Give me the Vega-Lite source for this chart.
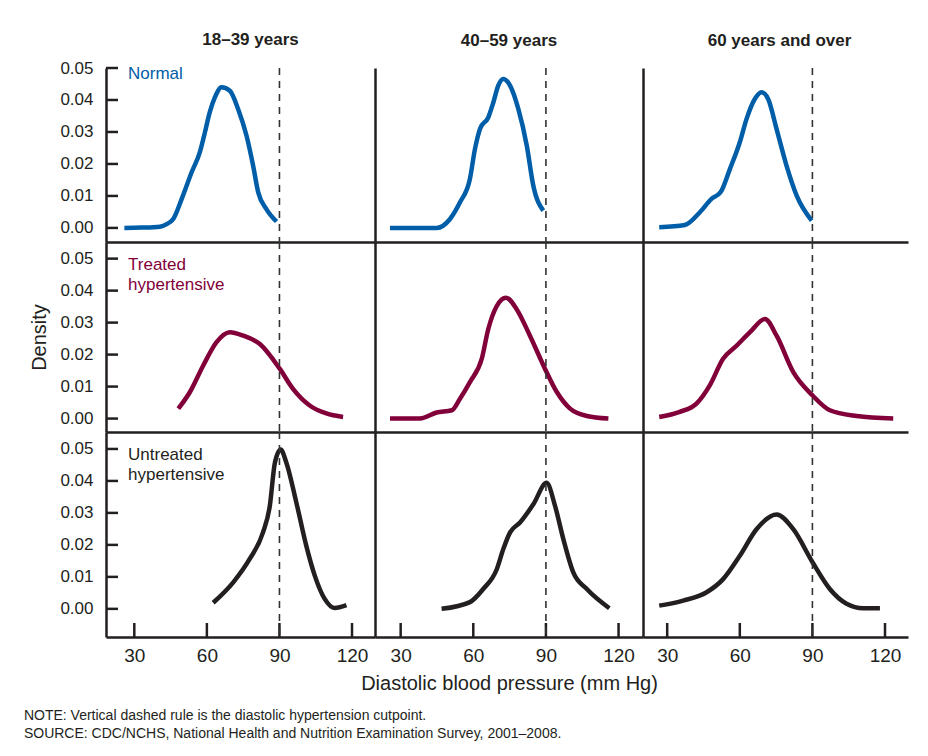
{
  "$schema": "https://vega.github.io/schema/vega-lite/v6.json",
  "background": "white",
  "padding": {"left": 23, "top": 31, "right": 10, "bottom": 10},
  "datasets": {
    "n1": [{"bp":25.9,"density":0},{"bp":33,"density":0.0001},{"bp":40.6,"density":0.0004},{"bp":43.4,"density":0.0012},{"bp":46.1,"density":0.0028},{"bp":49.6,"density":0.0091},{"bp":53.7,"density":0.0174},{"bp":57.1,"density":0.0237},{"bp":59.2,"density":0.0299},{"bp":61.2,"density":0.0362},{"bp":63.3,"density":0.0408},{"bp":66.1,"density":0.044},{"bp":69.5,"density":0.0429},{"bp":72.9,"density":0.0372},{"bp":76.4,"density":0.0288},{"bp":79.1,"density":0.0195},{"bp":81.2,"density":0.0112},{"bp":84.6,"density":0.0059},{"bp":88.8,"density":0.002}],
    "n2": [{"bp":25.6,"density":0},{"bp":44.9,"density":0},{"bp":50.4,"density":0.0028},{"bp":54.5,"density":0.008},{"bp":58.6,"density":0.0153},{"bp":60.7,"density":0.0247},{"bp":62.8,"density":0.031},{"bp":66.2,"density":0.0346},{"bp":68.3,"density":0.0393},{"bp":70.3,"density":0.0445},{"bp":72.4,"density":0.0466},{"bp":75.2,"density":0.0445},{"bp":78.6,"density":0.0372},{"bp":82.1,"density":0.0257},{"bp":84.8,"density":0.0132},{"bp":88.9,"density":0.0054}],
    "n3": [{"bp":26.7,"density":0.0002},{"bp":37.3,"density":0.0009},{"bp":43.5,"density":0.0049},{"bp":48.3,"density":0.0091},{"bp":52.1,"density":0.0112},{"bp":55.9,"density":0.0184},{"bp":60.0,"density":0.0268},{"bp":62.8,"density":0.0341},{"bp":66.2,"density":0.0403},{"bp":69.0,"density":0.0424},{"bp":71.7,"density":0.0403},{"bp":75.2,"density":0.0309},{"bp":79.3,"density":0.0195},{"bp":83.5,"density":0.0101},{"bp":89.7,"density":0.0023}],
    "t1": [{"bp":48.2,"density":0.0031},{"bp":53.0,"density":0.0083},{"bp":58.5,"density":0.0166},{"bp":64.0,"density":0.0239},{"bp":69.5,"density":0.027},{"bp":75.0,"density":0.0259},{"bp":81.9,"density":0.0233},{"bp":90.1,"density":0.0156},{"bp":95.6,"density":0.0093},{"bp":102.5,"density":0.0041},{"bp":109.4,"density":0.0016},{"bp":116.3,"density":0.0005}],
    "t2": [{"bp":25.6,"density":0},{"bp":38.0,"density":0},{"bp":44.9,"density":0.0019},{"bp":51.1,"density":0.0026},{"bp":54.5,"density":0.0062},{"bp":58.6,"density":0.0114},{"bp":63.5,"density":0.0187},{"bp":66.2,"density":0.028},{"bp":69.7,"density":0.0352},{"bp":73.5,"density":0.0378},{"bp":77.9,"density":0.0342},{"bp":83.4,"density":0.0259},{"bp":89.6,"density":0.0156},{"bp":94.5,"density":0.0083},{"bp":100.0,"density":0.0031},{"bp":106.9,"density":0.0008},{"bp":115.8,"density":0}],
    "t3": [{"bp":26.7,"density":0.0005},{"bp":35.2,"density":0.0021},{"bp":42.1,"density":0.0047},{"bp":47.6,"density":0.0104},{"bp":53.1,"density":0.0187},{"bp":58.7,"density":0.0228},{"bp":64.2,"density":0.027},{"bp":70.4,"density":0.0311},{"bp":75.2,"density":0.0259},{"bp":82.1,"density":0.0145},{"bp":90.1,"density":0.0072},{"bp":97.2,"density":0.0026},{"bp":108.3,"density":0.0008},{"bp":123.4,"density":0}],
    "u1": [{"bp":62.6,"density":0.0019},{"bp":70.9,"density":0.0083},{"bp":77.7,"density":0.0156},{"bp":83.2,"density":0.0239},{"bp":86.0,"density":0.0321},{"bp":88.1,"density":0.0456},{"bp":90.5,"density":0.0498},{"bp":92.9,"density":0.0456},{"bp":97.0,"density":0.0332},{"bp":101.1,"density":0.0197},{"bp":104.6,"density":0.0104},{"bp":108.7,"density":0.0031},{"bp":112.8,"density":0.0003},{"bp":117.7,"density":0.0012}],
    "u2": [{"bp":46.9,"density":0},{"bp":58.6,"density":0.0021},{"bp":64.1,"density":0.0062},{"bp":69.7,"density":0.0124},{"bp":72.4,"density":0.0187},{"bp":75.2,"density":0.0239},{"bp":79.3,"density":0.027},{"bp":84.8,"density":0.0327},{"bp":90.3,"density":0.0394},{"bp":93.8,"density":0.0321},{"bp":97.2,"density":0.0218},{"bp":101.3,"density":0.0114},{"bp":106.9,"density":0.0062},{"bp":116.2,"density":0.0002}],
    "u3": [{"bp":26.7,"density":0.001},{"bp":36.6,"density":0.0026},{"bp":46.3,"density":0.0052},{"bp":53.1,"density":0.0093},{"bp":60.0,"density":0.0166},{"bp":66.9,"density":0.0249},{"bp":75.2,"density":0.0295},{"bp":82.1,"density":0.0249},{"bp":90.1,"density":0.0145},{"bp":97.2,"density":0.0062},{"bp":104.1,"density":0.0016},{"bp":111.0,"density":0.0002},{"bp":117.9,"density":0.0002}],
    "yticks": [{"density":0},{"density":0.01},{"density":0.02},{"density":0.03},{"density":0.04},{"density":0.05}],
    "xticks": [{"bp":30},{"bp":60},{"bp":90},{"bp":120}],
    "cut": [{"bp":90}]
  },
  "columns": 3,
  "spacing": 0,
  "bounds": "flush",
  "align": "each",
  "title": {
    "text": ["NOTE: Vertical dashed rule is the diastolic hypertension cutpoint.", "SOURCE: CDC/NCHS, National Health and Nutrition Examination Survey, 2001–2008."],
    "orient": "bottom", "anchor": "start", "frame": "bounds",
    "fontSize": 14, "fontWeight": "normal", "lineHeight": 18, "offset": 16, "dx": -6, "color": "#231f20"
  },
  "concat": [
    {
      "width": 269, "height": 174,
      "title": {"text": "18–39 years", "fontSize": 17, "fontWeight": "bold", "offset": 10, "frame": "group", "dx": 10},
      "layer": [
        {"data": {"name": "n1"}, "mark": {"type": "line", "color": "#005ea8", "strokeWidth": 4.5, "interpolate": "monotone"},
         "encoding": {
           "x": {"field": "bp", "type": "quantitative", "scale": {"domain": [18.3, 129.5], "nice": false, "zero": false}, "axis": {"ticks": false, "labels": false, "title": null}},
           "y": {"field": "density", "type": "quantitative", "scale": {"domain": [-0.0044, 0.05], "nice": false, "zero": false}, "axis": {"values": [0, 0.01, 0.02, 0.03, 0.04, 0.05], "tickCount": 12, "format": ".2f", "ticks": false, "labelPadding": 13, "labelFontSize": 17, "labelOverlap": false, "labelFlush": false, "labelBound": false, "title": null}}
         }},
        {"data": {"name": "yticks"}, "mark": {"type": "rule", "color": "#231f20", "strokeWidth": 2.5}, "encoding": {"y": {"field": "density", "type": "quantitative"}, "x": {"datum": 18.3, "type": "quantitative"}, "x2": {"datum": 23.26}}},
        {"data": {"name": "cut"}, "mark": {"type": "rule", "strokeDash": [7, 6], "strokeWidth": 1.6, "color": "#333333"}, "encoding": {"x": {"field": "bp", "type": "quantitative"}}},
        {"data": {"values": [{"label": "Normal"}]}, "mark": {"type": "text", "align": "left", "baseline": "top", "fontSize": 17, "color": "#005ea8", "lineHeight": 20, "dy": -2}, "encoding": {"x": {"datum": 27.4}, "y": {"datum": 0.05}, "text": {"field": "label"}}}
      ]
    },
    {
      "width": 268, "height": 174,
      "title": {"text": "40–59 years", "fontSize": 17, "fontWeight": "bold", "offset": 17, "frame": "group"},
      "layer": [
        {"data": {"name": "n2"}, "mark": {"type": "line", "color": "#005ea8", "strokeWidth": 4.5, "interpolate": "monotone"},
         "encoding": {
           "x": {"field": "bp", "type": "quantitative", "scale": {"domain": [19.4, 130.1], "nice": false, "zero": false}, "axis": {"ticks": false, "labels": false, "title": null}},
           "y": {"field": "density", "type": "quantitative", "scale": {"domain": [-0.0044, 0.05], "nice": false, "zero": false}, "axis": {"ticks": false, "labels": false, "title": null}}
         }},
        {"data": {"name": "cut"}, "mark": {"type": "rule", "strokeDash": [7, 6], "strokeWidth": 1.6, "color": "#333333"}, "encoding": {"x": {"field": "bp", "type": "quantitative"}}}
      ]
    },
    {
      "width": 265, "height": 174,
      "title": {"text": "60 years and over", "fontSize": 17, "fontWeight": "bold", "offset": 17, "frame": "group", "dx": 4},
      "layer": [
        {"data": {"name": "n3"}, "mark": {"type": "line", "color": "#005ea8", "strokeWidth": 4.5, "interpolate": "monotone"},
         "encoding": {
           "x": {"field": "bp", "type": "quantitative", "scale": {"domain": [20, 129.5], "nice": false, "zero": false}, "axis": {"ticks": false, "labels": false, "title": null}},
           "y": {"field": "density", "type": "quantitative", "scale": {"domain": [-0.0044, 0.05], "nice": false, "zero": false}, "axis": {"ticks": false, "labels": false, "title": null}}
         }},
        {"data": {"name": "cut"}, "mark": {"type": "rule", "strokeDash": [7, 6], "strokeWidth": 1.6, "color": "#333333"}, "encoding": {"x": {"field": "bp", "type": "quantitative"}}}
      ]
    },
    {
      "width": 269, "height": 190,
      "layer": [
        {"data": {"name": "t1"}, "mark": {"type": "line", "color": "#82003a", "strokeWidth": 4.5, "interpolate": "monotone"},
         "encoding": {
           "x": {"field": "bp", "type": "quantitative", "scale": {"domain": [18.3, 129.5], "nice": false, "zero": false}, "axis": {"ticks": false, "labels": false, "title": null}},
           "y": {"field": "density", "type": "quantitative", "scale": {"domain": [-0.0042, 0.0552], "nice": false, "zero": false}, "axis": {"values": [0, 0.01, 0.02, 0.03, 0.04, 0.05], "tickCount": 12, "format": ".2f", "ticks": false, "labelPadding": 13, "labelFontSize": 17, "labelOverlap": false, "labelFlush": false, "labelBound": false, "title": "Density", "titleFontSize": 20, "titlePadding": 10}}
         }},
        {"data": {"name": "yticks"}, "mark": {"type": "rule", "color": "#231f20", "strokeWidth": 2.5}, "encoding": {"y": {"field": "density", "type": "quantitative"}, "x": {"datum": 18.3, "type": "quantitative"}, "x2": {"datum": 23.26}}},
        {"data": {"name": "cut"}, "mark": {"type": "rule", "strokeDash": [7, 6], "strokeWidth": 1.6, "color": "#333333"}, "encoding": {"x": {"field": "bp", "type": "quantitative"}}},
        {"data": {"values": [{"label": ["Treated", "hypertensive"]}]}, "mark": {"type": "text", "align": "left", "baseline": "top", "fontSize": 17, "color": "#82003a", "lineHeight": 20, "dy": -2}, "encoding": {"x": {"datum": 27.4}, "y": {"datum": 0.05}, "text": {"field": "label"}}}
      ]
    },
    {
      "width": 268, "height": 190,
      "layer": [
        {"data": {"name": "t2"}, "mark": {"type": "line", "color": "#82003a", "strokeWidth": 4.5, "interpolate": "monotone"},
         "encoding": {
           "x": {"field": "bp", "type": "quantitative", "scale": {"domain": [19.4, 130.1], "nice": false, "zero": false}, "axis": {"ticks": false, "labels": false, "title": null}},
           "y": {"field": "density", "type": "quantitative", "scale": {"domain": [-0.0042, 0.0552], "nice": false, "zero": false}, "axis": {"ticks": false, "labels": false, "title": null}}
         }},
        {"data": {"name": "cut"}, "mark": {"type": "rule", "strokeDash": [7, 6], "strokeWidth": 1.6, "color": "#333333"}, "encoding": {"x": {"field": "bp", "type": "quantitative"}}}
      ]
    },
    {
      "width": 265, "height": 190,
      "layer": [
        {"data": {"name": "t3"}, "mark": {"type": "line", "color": "#82003a", "strokeWidth": 4.5, "interpolate": "monotone"},
         "encoding": {
           "x": {"field": "bp", "type": "quantitative", "scale": {"domain": [20, 129.5], "nice": false, "zero": false}, "axis": {"ticks": false, "labels": false, "title": null}},
           "y": {"field": "density", "type": "quantitative", "scale": {"domain": [-0.0042, 0.0552], "nice": false, "zero": false}, "axis": {"ticks": false, "labels": false, "title": null}}
         }},
        {"data": {"name": "cut"}, "mark": {"type": "rule", "strokeDash": [7, 6], "strokeWidth": 1.6, "color": "#333333"}, "encoding": {"x": {"field": "bp", "type": "quantitative"}}}
      ]
    },
    {
      "width": 269, "height": 205,
      "layer": [
        {"data": {"name": "u1"}, "mark": {"type": "line", "color": "#231f20", "strokeWidth": 4.5, "interpolate": "monotone"},
         "encoding": {
           "x": {"field": "bp", "type": "quantitative", "scale": {"domain": [18.3, 129.5], "nice": false, "zero": false}, "axis": {"values": [30, 60, 90, 120], "tickCount": 8, "ticks": false, "labelPadding": 9, "labelFontSize": 19, "labelOverlap": false, "labelFlush": false, "title": null}},
           "y": {"field": "density", "type": "quantitative", "scale": {"domain": [-0.0088, 0.0553], "nice": false, "zero": false}, "axis": {"values": [0, 0.01, 0.02, 0.03, 0.04, 0.05], "tickCount": 12, "format": ".2f", "ticks": false, "labelPadding": 13, "labelFontSize": 17, "labelOverlap": false, "labelFlush": false, "labelBound": false, "title": null}}
         }},
        {"data": {"name": "yticks"}, "mark": {"type": "rule", "color": "#231f20", "strokeWidth": 2.5}, "encoding": {"y": {"field": "density", "type": "quantitative"}, "x": {"datum": 18.3, "type": "quantitative"}, "x2": {"datum": 23.26}}},
        {"data": {"name": "xticks"}, "mark": {"type": "rule", "color": "#231f20", "strokeWidth": 2.5}, "encoding": {"x": {"field": "bp", "type": "quantitative"}, "y": {"datum": -0.0088, "type": "quantitative"}, "y2": {"datum": -0.00442}}},
        {"data": {"name": "cut"}, "mark": {"type": "rule", "strokeDash": [7, 6], "strokeWidth": 1.6, "color": "#333333"}, "encoding": {"x": {"field": "bp", "type": "quantitative"}}},
        {"data": {"values": [{"label": ["Untreated", "hypertensive"]}]}, "mark": {"type": "text", "align": "left", "baseline": "top", "fontSize": 17, "color": "#231f20", "lineHeight": 20, "dy": -2}, "encoding": {"x": {"datum": 27.4}, "y": {"datum": 0.05}, "text": {"field": "label"}}}
      ]
    },
    {
      "width": 268, "height": 205,
      "layer": [
        {"data": {"name": "u2"}, "mark": {"type": "line", "color": "#231f20", "strokeWidth": 4.5, "interpolate": "monotone"},
         "encoding": {
           "x": {"field": "bp", "type": "quantitative", "scale": {"domain": [19.4, 130.1], "nice": false, "zero": false}, "axis": {"values": [30, 60, 90, 120], "tickCount": 8, "ticks": false, "labelPadding": 9, "labelFontSize": 19, "labelOverlap": false, "labelFlush": false, "title": "Diastolic blood pressure (mm Hg)", "titleFontSize": 20, "titlePadding": 8}},
           "y": {"field": "density", "type": "quantitative", "scale": {"domain": [-0.0088, 0.0553], "nice": false, "zero": false}, "axis": {"ticks": false, "labels": false, "title": null}}
         }},
        {"data": {"name": "xticks"}, "mark": {"type": "rule", "color": "#231f20", "strokeWidth": 2.5}, "encoding": {"x": {"field": "bp", "type": "quantitative"}, "y": {"datum": -0.0088, "type": "quantitative"}, "y2": {"datum": -0.00442}}},
        {"data": {"name": "cut"}, "mark": {"type": "rule", "strokeDash": [7, 6], "strokeWidth": 1.6, "color": "#333333"}, "encoding": {"x": {"field": "bp", "type": "quantitative"}}}
      ]
    },
    {
      "width": 265, "height": 205,
      "layer": [
        {"data": {"name": "u3"}, "mark": {"type": "line", "color": "#231f20", "strokeWidth": 4.5, "interpolate": "monotone"},
         "encoding": {
           "x": {"field": "bp", "type": "quantitative", "scale": {"domain": [20, 129.5], "nice": false, "zero": false}, "axis": {"values": [30, 60, 90, 120], "tickCount": 8, "ticks": false, "labelPadding": 9, "labelFontSize": 19, "labelOverlap": false, "labelFlush": false, "title": null}},
           "y": {"field": "density", "type": "quantitative", "scale": {"domain": [-0.0088, 0.0553], "nice": false, "zero": false}, "axis": {"ticks": false, "labels": false, "title": null}}
         }},
        {"data": {"name": "xticks"}, "mark": {"type": "rule", "color": "#231f20", "strokeWidth": 2.5}, "encoding": {"x": {"field": "bp", "type": "quantitative"}, "y": {"datum": -0.0088, "type": "quantitative"}, "y2": {"datum": -0.00442}}},
        {"data": {"name": "cut"}, "mark": {"type": "rule", "strokeDash": [7, 6], "strokeWidth": 1.6, "color": "#333333"}, "encoding": {"x": {"field": "bp", "type": "quantitative"}}}
      ]
    }
  ],
  "config": {
    "view": {"stroke": null},
    "font": "Liberation Sans",
    "axis": {"domainColor": "#231f20", "domainWidth": 2.5, "grid": false, "labelColor": "#231f20", "titleColor": "#231f20", "titleFontWeight": "normal", "labelFont": "Liberation Sans", "titleFont": "Liberation Sans", "labelOverlap": false, "labelFlush": false},
    "title": {"color": "#231f20", "font": "Liberation Sans"}
  }
}
